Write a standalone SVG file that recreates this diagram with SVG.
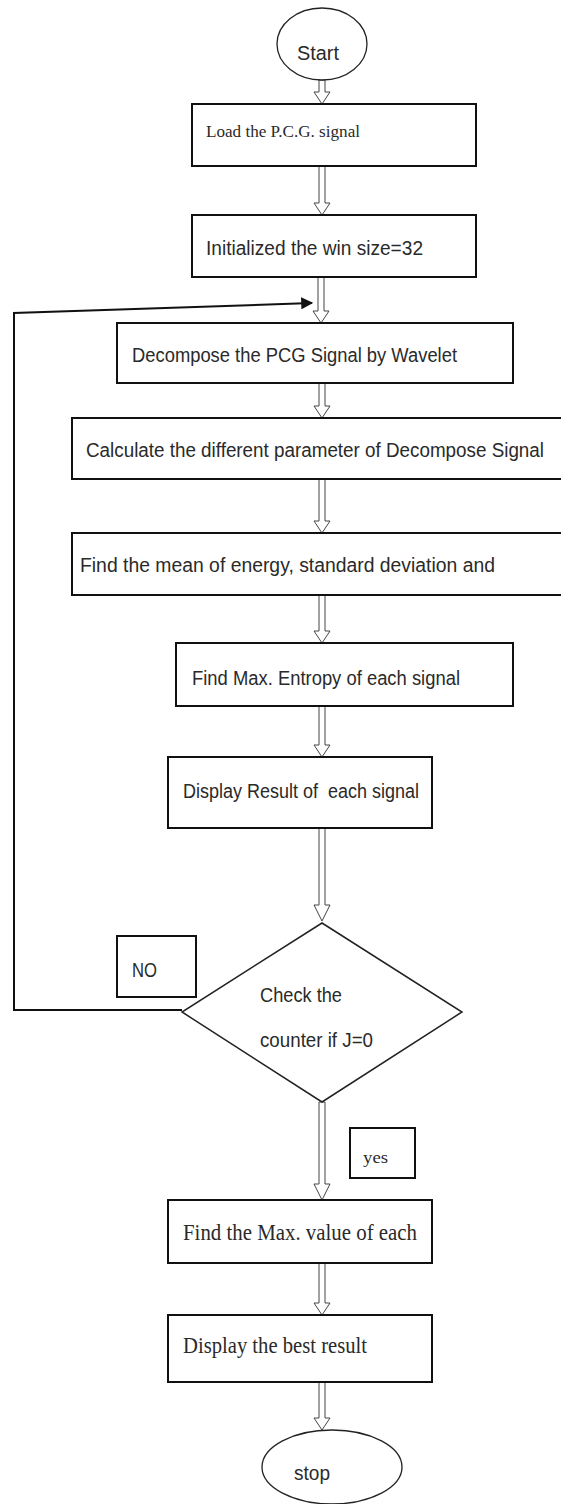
<svg xmlns="http://www.w3.org/2000/svg" width="561" height="1504" viewBox="0 0 561 1504">
<defs>
<style>
.box{fill:#fff;stroke:#111;stroke-width:2}
.term{fill:#fff;stroke:#222;stroke-width:1.3}
.dia{fill:#fff;stroke:#222;stroke-width:1.5}
.sans{font-family:"Liberation Sans",Arial,sans-serif;font-size:20px;fill:#2a2a2a}
.serif{font-family:"Liberation Serif","Times New Roman",serif;fill:#2a2a2a}
.harrow{fill:#fff;stroke:#444;stroke-width:1}
.line{fill:none;stroke:#111;stroke-width:2}
</style>
<marker id="ah" viewBox="0 0 10 10" refX="9" refY="5" markerWidth="6" markerHeight="6" orient="auto" markerUnits="strokeWidth">
<path d="M0,0 L10,5 L0,10 z" fill="#111"/>
</marker>
</defs>
<rect width="561" height="1504" fill="#fff"/>

<g id="connectors">
<path class="harrow" d="M319,80 V92 H314 L322,104 L330,92 H325 V80 Z"/>
<path class="harrow" d="M319,166 V203 H314 L322,215 L330,203 H325 V166 Z"/>
<path class="harrow" d="M318,277 V311 H313 L321,323 L329,311 H324 V277 Z"/>
<path class="harrow" d="M319,383 V406 H314 L322,418 L330,406 H325 V383 Z"/>
<path class="harrow" d="M319,479 V521 H314 L322,533 L330,521 H325 V479 Z"/>
<path class="harrow" d="M319,595 V631 H314 L322,643 L330,631 H325 V595 Z"/>
<path class="harrow" d="M319,706 V745 H314 L322,757 L330,745 H325 V706 Z"/>
<path class="harrow" d="M319,828 V905 H314 L322,921 L330,905 H325 V828 Z"/>
<path class="harrow" d="M319,1102 V1184 H314 L322,1200 L330,1184 H325 V1102 Z"/>
<path class="harrow" d="M319,1263 V1303 H314 L322,1315 L330,1303 H325 V1263 Z"/>
<path class="harrow" d="M319,1382 V1418 H314 L322,1430 L330,1418 H325 V1382 Z"/>
<polyline class="line" points="182,1010 14,1010 14,313 312,303" marker-end="url(#ah)"/>
</g>

<g id="start">
<ellipse class="term" cx="322" cy="44" rx="45" ry="36"/>
<text class="sans" x="297" y="60" textLength="42" lengthAdjust="spacingAndGlyphs">Start</text>
</g>

<g id="load">
<rect class="box" x="192" y="104" width="284" height="62"/>
<text class="serif" x="206" y="137" font-size="16" textLength="154" lengthAdjust="spacingAndGlyphs">Load the P.C.G. signal</text>
</g>

<g id="init">
<rect class="box" x="192" y="215" width="284" height="62"/>
<text class="sans" x="206" y="255" textLength="217" lengthAdjust="spacingAndGlyphs">Initialized the win size=32</text>
</g>

<g id="decompose">
<rect class="box" x="117" y="323" width="396" height="60"/>
<text class="sans" x="132" y="362" textLength="325" lengthAdjust="spacingAndGlyphs">Decompose the PCG Signal by Wavelet</text>
</g>

<g id="calculate">
<rect class="box" x="72" y="418" width="490" height="61"/>
<text class="sans" x="86" y="457" textLength="458" lengthAdjust="spacingAndGlyphs">Calculate the different parameter of Decompose Signal</text>
</g>

<g id="mean">
<rect class="box" x="72" y="533" width="490" height="62"/>
<text class="sans" x="80" y="572" textLength="415" lengthAdjust="spacingAndGlyphs">Find the mean of energy, standard deviation and</text>
</g>

<g id="entropy">
<rect class="box" x="176" y="643" width="337" height="63"/>
<text class="sans" x="192" y="685" textLength="268" lengthAdjust="spacingAndGlyphs">Find Max. Entropy of each signal</text>
</g>

<g id="display">
<rect class="box" x="168" y="757" width="264" height="71"/>
<text class="sans" x="183" y="798" textLength="236" lengthAdjust="spacingAndGlyphs" xml:space="preserve">Display Result of  each signal</text>
</g>

<g id="check">
<polygon class="dia" points="322,923 462,1012 322,1102 182,1012"/>
<text class="sans" x="260" y="1002" textLength="82" lengthAdjust="spacingAndGlyphs">Check the</text>
<text class="sans" x="260" y="1047" textLength="113" lengthAdjust="spacingAndGlyphs">counter if J=0</text>
</g>

<g id="no">
<rect class="box" x="117" y="936" width="79" height="61"/>
<text class="sans" x="132" y="977" textLength="25" lengthAdjust="spacingAndGlyphs">NO</text>
</g>

<g id="yes">
<rect class="box" x="350" y="1128" width="65" height="50"/>
<text class="serif" x="363" y="1163" font-size="16" textLength="25" lengthAdjust="spacingAndGlyphs">yes</text>
</g>

<g id="maxvalue">
<rect class="box" x="168" y="1200" width="264" height="63"/>
<text class="serif" x="183" y="1240" font-size="23" textLength="234" lengthAdjust="spacingAndGlyphs">Find the Max. value of each</text>
</g>

<g id="best">
<rect class="box" x="168" y="1315" width="264" height="67"/>
<text class="serif" x="183" y="1353" font-size="23" textLength="184" lengthAdjust="spacingAndGlyphs">Display the best result</text>
</g>

<g id="stop">
<ellipse class="term" cx="332" cy="1467" rx="70" ry="37"/>
<text class="sans" x="294" y="1480" textLength="36" lengthAdjust="spacingAndGlyphs">stop</text>
</g>
</svg>
